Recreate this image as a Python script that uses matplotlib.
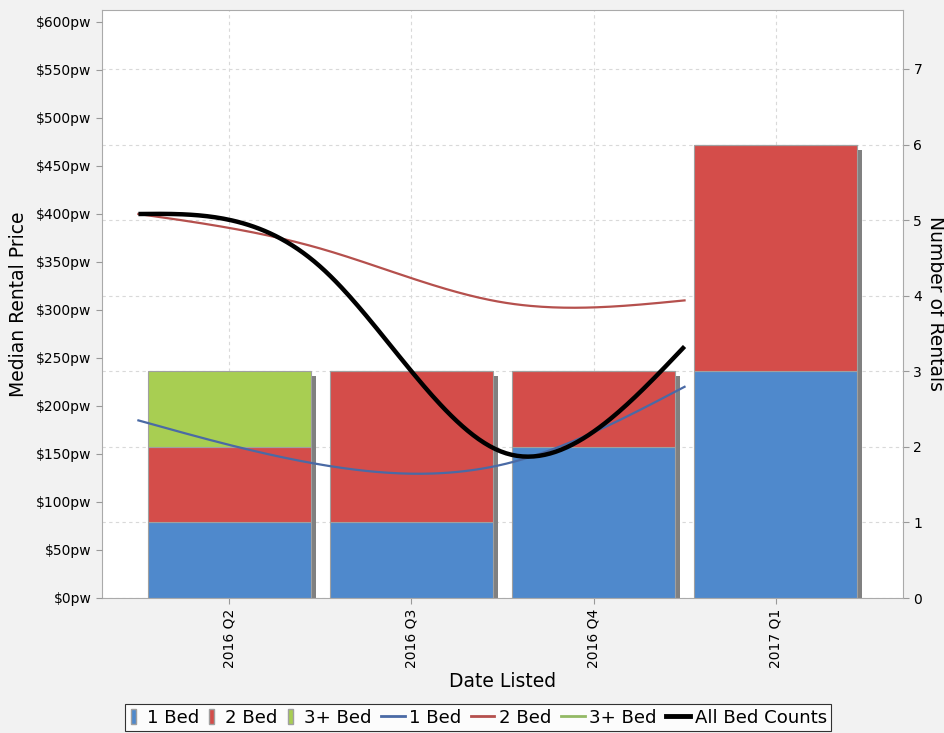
import numpy as np
import matplotlib
matplotlib.use("Agg")
import matplotlib.pyplot as plt
import matplotlib.transforms as mtransforms
from matplotlib.patches import Patch, Rectangle
from matplotlib.lines import Line2D

# Donnees
quarters = ["2016 Q2", "2016 Q3", "2016 Q4", "2017 Q1"]
count_1bed = [1, 1, 2, 3]
count_2bed = [1, 2, 1, 3]
count_3bed = [1, 0, 0, 0]

# prix medians ($pw), traces entre les categories
price_1bed = [185, 139, 139, 220]
price_2bed = [400, 364, 308, 310]
price_all = [400, 345, 152, 262]

c_blue = "#4f89cc"
c_red = "#d44d4a"
c_green = "#a8ce52"
l_blue = "#4a6aa5"
l_red = "#b5504d"
l_green = "#93b965"


def natural_spline(x, y, n=200):
    # spline cubique naturelle (rendu lisse des courbes)
    x = np.asarray(x, float)
    y = np.asarray(y, float)
    k = len(x)
    h = np.diff(x)
    A = np.zeros((k, k))
    b = np.zeros(k)
    A[0, 0] = A[-1, -1] = 1
    for i in range(1, k - 1):
        A[i, i - 1] = h[i - 1]
        A[i, i] = 2 * (h[i - 1] + h[i])
        A[i, i + 1] = h[i]
        b[i] = 6 * ((y[i + 1] - y[i]) / h[i] - (y[i] - y[i - 1]) / h[i - 1])
    M = np.linalg.solve(A, b)
    xs = np.linspace(x[0], x[-1], n)
    idx = np.clip(np.searchsorted(x, xs) - 1, 0, k - 2)
    x0, x1 = x[idx], x[idx + 1]
    hh = x1 - x0
    ys = (M[idx] * (x1 - xs) ** 3 / (6 * hh) + M[idx + 1] * (xs - x0) ** 3 / (6 * hh)
          + (y[idx] / hh - M[idx] * hh / 6) * (x1 - xs)
          + (y[idx + 1] / hh - M[idx + 1] * hh / 6) * (xs - x0))
    return xs, ys


fig = plt.figure(figsize=(9.45, 7.33), dpi=100)
fig.patch.set_facecolor("#f2f2f2")
ax = fig.add_axes([102 / 945, (733 - 598) / 733, (903 - 102) / 945, (598 - 10) / 733])
ax.set_facecolor("white")

x = np.arange(len(quarters))
width = 0.9
totals = np.array(count_1bed) + np.array(count_2bed) + np.array(count_3bed)

# ombres des barres
shadow = mtransforms.offset_copy(ax.transData, fig=fig, x=5, y=-5, units="dots")
ax.bar(x, totals, width, color="#808080", transform=shadow, zorder=1)

ax.bar(x, count_1bed, width, color=c_blue, edgecolor="#a0a0a0", linewidth=0.8, zorder=2)
ax.bar(x, count_2bed, width, bottom=count_1bed, color=c_red, edgecolor="#a0a0a0",
       linewidth=0.8, zorder=2)
ax.bar(x, count_3bed, width, bottom=np.array(count_1bed) + np.array(count_2bed),
       color=c_green, edgecolor="#a0a0a0", linewidth=0.8, zorder=2)

ax.set_xlim(-0.7, 3.7)
ax.set_ylim(0, 7.78)
ax.set_xticks(x)
ax.set_xticklabels(quarters, rotation=90, fontsize=10)
ax.set_xlabel("Date Listed", fontsize=13.5, labelpad=3)
ax.tick_params(axis="x", length=4, color="#999999")
ax.grid(True, linestyle=(0, (3, 3)), color="#d9d9d9", linewidth=0.8)
ax.set_axisbelow(True)
for s in ax.spines.values():
    s.set_color("#aaaaaa")

# axe des prix
ax2 = ax.twinx()
ax2.yaxis.tick_left()
ax2.yaxis.set_label_position("left")
ax2.set_ylim(0, 612.5)
ax2.set_yticks(range(0, 601, 50))
ax2.set_yticklabels([f"${v}pw" for v in range(0, 601, 50)])
ax2.tick_params(axis="y", labelsize=10, length=4, color="#999999")
ax2.set_ylabel("Median Rental Price", fontsize=13.5, labelpad=6)
for s in ax2.spines.values():
    s.set_visible(False)

# axe des nombres a droite (apres twinx)
ax.yaxis.tick_right()
ax.yaxis.set_label_position("right")
ax.set_yticks(range(0, 8))
ax.tick_params(axis="y", labelsize=10, length=4, color="#999999")
ax.set_ylabel("Number of Rentals", fontsize=13.5, rotation=-90, labelpad=16.5)

xl = x - 0.5
xs, ys = natural_spline(xl, price_1bed)
ax2.plot(xs, ys, color=l_blue, lw=1.6)
xs, ys = natural_spline(xl, price_2bed)
ax2.plot(xs, ys, color=l_red, lw=1.6)
xs, ys = natural_spline(xl, price_all)
ax2.plot(xs, ys, color="black", lw=3.2, solid_capstyle="butt")

handles = [
    Patch(facecolor=c_blue, edgecolor="#a0a0a0"),
    Patch(facecolor=c_red, edgecolor="#a0a0a0"),
    Patch(facecolor=c_green, edgecolor="#a0a0a0"),
    Line2D([], [], color=l_blue, lw=2),
    Line2D([], [], color=l_red, lw=2),
    Line2D([], [], color=l_green, lw=2),
    Line2D([], [], color="black", lw=3.5),
]
labels = ["1 Bed", "2 Bed", "3+ Bed", "1 Bed", "2 Bed", "3+ Bed", "All Bed Counts"]
leg = fig.legend(handles, labels, loc="upper center", bbox_to_anchor=(478 / 945, 1 - 704 / 733),
                 ncol=7, fontsize=13.1, frameon=True, fancybox=False, borderpad=0.26,
                 handlelength=1.3, handletextpad=0.27, columnspacing=0.5,
                 handleheight=0.8, borderaxespad=0)
leg.get_frame().set_edgecolor("black")
leg.get_frame().set_linewidth(0.8)

# les rectangles du legende sont etroits, leurs boites plus courtes
for col in leg._legend_handle_box.get_children():
    for entry in col.get_children():
        da = entry.get_children()[0]
        for art in da.get_children():
            if isinstance(art, Rectangle):
                da.width = 9.0
                yc = art.get_y() + art.get_height() / 2
                art.set_x(1.0)
                art.set_width(3.6)
                art.set_y(yc - 5.4)
                art.set_height(10.8)

fig.savefig("out.png", dpi=100, facecolor=fig.get_facecolor())
